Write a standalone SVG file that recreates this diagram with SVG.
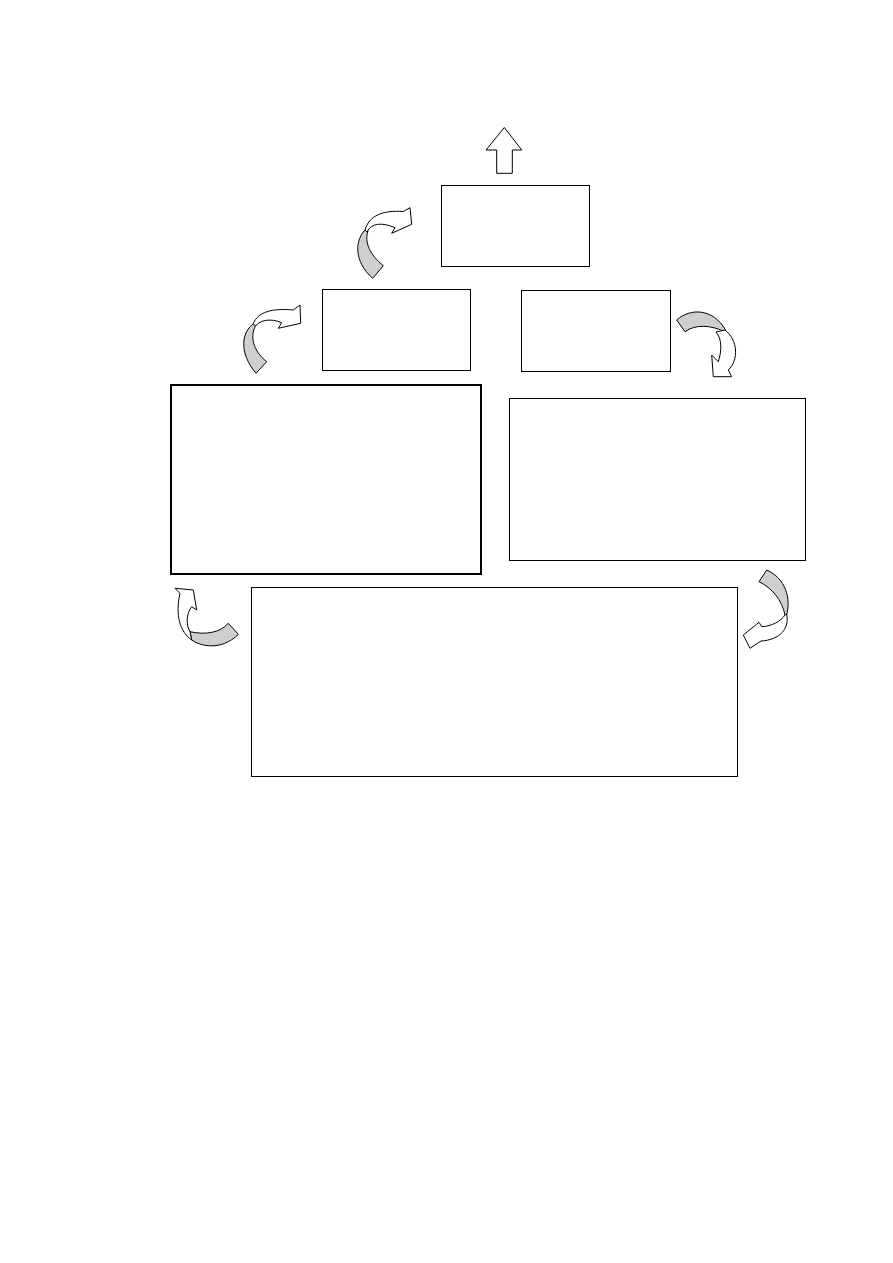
<svg xmlns="http://www.w3.org/2000/svg" width="893" height="1263" viewBox="0 0 893 1263">
<style>
.box{fill:#fff;stroke:#000;stroke-width:1}
.thick{stroke-width:2}
.arw{fill:#fff;stroke:#000;stroke-width:1;stroke-linejoin:miter}
.sh{fill:#cfcfcf;stroke:#000;stroke-width:1}
</style>
<rect width="893" height="1263" fill="#fff"/>
<g id="node-top"><rect class="box" x="441.5" y="185.5" width="148" height="81"/></g>
<g id="node-mid-left"><rect class="box" x="322.5" y="289.5" width="148" height="81"/></g>
<g id="node-mid-right"><rect class="box" x="521.5" y="290.5" width="149" height="81"/></g>
<g id="node-left"><rect class="box thick" x="171" y="385" width="310" height="189"/></g>
<g id="node-right"><rect class="box" x="509.5" y="398.5" width="296" height="162"/></g>
<g id="node-bottom"><rect class="box" x="251.5" y="587.5" width="486" height="189"/></g>
<g id="connectors">
  <path id="up-arrow" class="arw" d="M504.3,127.5 L521.7,150 L512.3,150 L512.3,173.3 L496.7,173.3 L496.7,150 L486,150 Z"/>
  <g id="curve1">
    <path class="sh" d="M366,229 C355,239 353,261 372.7,278.3 L383.3,265.7 C370,255 364,242 368,231 Z"/>
    <path class="arw" d="M365,230 C369,216 382,210 403.3,211.5 L410,207.7 L411.7,224.3 L391.7,233.3 L395,227.7 C382,222 371,223 367,232 Z"/>
  </g>
  <g id="curve2">
    <path class="sh" d="M254,323.5 C242,331 238,352 256,373.3 L266.7,361.7 C252,350 250,335 256,325 Z"/>
    <path class="arw" d="M253.3,323.5 C258,312 272,308 293.3,310 L300,305 L300.7,323.3 L278.3,328.3 L281.7,322.7 C271,318 260,320 255.5,326 Z"/>
  </g>
  <g id="curve3">
    <path class="sh" d="M676.7,320 C690,308 713,308 725.5,330 L725,332 C712,325 695,324 685,331.7 Z"/>
    <path class="arw" d="M725,330 C738,340 739,360 728.3,370 L731.7,376.7 L713.3,376.7 L711.7,355 L718.3,361.7 C722,350 722,339 716,332 C719,331 722,331 725,330 Z"/>
  </g>
  <g id="curve4">
    <path class="sh" d="M228.3,623.3 C220,633 205,635 190,631.7 L191.7,640 C205,649 225,648 238.3,634.3 Z"/>
    <path class="arw" d="M191.7,640 C180,632 175,615 180,593.3 L175,588.3 L193.3,590 L196.7,610 L191.7,606.7 C186,614 186,625 190,631.7 Z"/>
  </g>
  <g id="curve5">
    <path class="sh" d="M766.7,570 C785,578 792,598 786,617 L785,615 C782,600 772,588 759,581.7 Z"/>
    <path class="arw" d="M786.5,614 C790,628 780,640 761,641 L750,648.3 L743.3,635 L759,622.3 L761.7,626.7 C772,626 780,622 785,615 Z"/>
  </g>
</g>
</svg>
